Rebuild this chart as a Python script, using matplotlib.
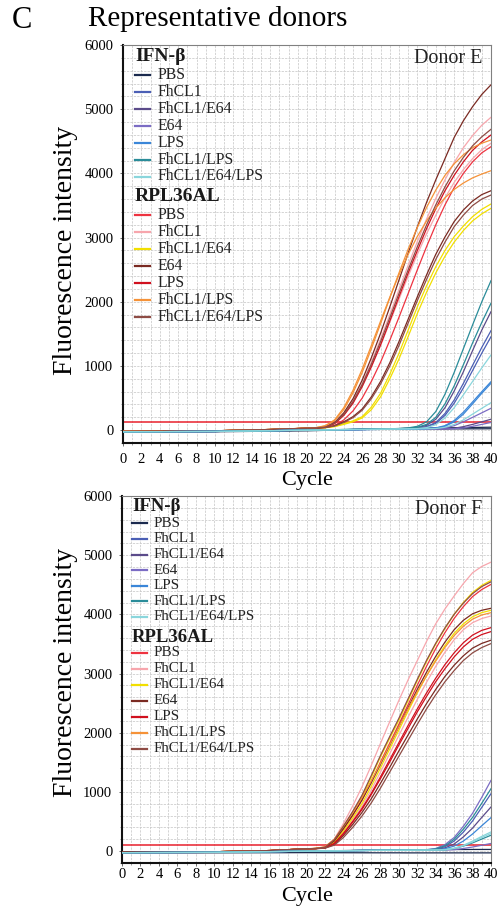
import matplotlib
matplotlib.use('Agg')
import matplotlib.pyplot as plt
from matplotlib.ticker import MultipleLocator
from matplotlib.lines import Line2D

plt.rcParams['font.family'] = ['Liberation Serif', 'DejaVu Serif']

# ---------------- data ----------------
conditions = ['PBS', 'FhCL1', 'FhCL1/E64', 'E64', 'LPS', 'FhCL1/LPS', 'FhCL1/E64/LPS']
ifn_colors = ['#1b2a4e', '#4b5fb5', '#5b4b8a', '#7b6cc4', '#3a86d8', '#2a8c99', '#8ad6dc']
rpl_colors = ['#ee3340', '#f7a6ad', '#f2df00', '#7a2a22', '#d0101e', '#f59238', '#8e4c45']

cycles_rpl = [0, 10, 16] + list(range(20, 41))
cycles_ifn = [0, 10, 20, 28] + list(range(30, 41))
x_ticks = list(range(0, 41, 2))
y_ticks = [0, 1000, 2000, 3000, 4000, 5000, 6000]
threshold_E = 120
threshold_F = 100

# Donor E - IFN-beta (replicates)
E_ifn_PBS = [[-25, -20, 0, 15, 16, 17, 18, 18, 19, 19, 20, 20, 21, 21, 22],
             [-30, -25, -10, 20, 25, 28, 30, 32, 34, 36, 38, 40, 42, 44, 46]]
E_ifn_FhCL1 = [[-25, -20, 0, 15, 20, 22, 30, 55, 120, 260, 470, 730, 1010, 1290, 1550],
               [-25, -20, 0, 15, 20, 22, 28, 50, 105, 230, 420, 660, 930, 1200, 1456]]
E_ifn_FhCL1_E64 = [[-25, -20, 0, 15, 22, 28, 40, 75, 170, 350, 610, 910, 1240, 1560, 1846],
                   [-25, -20, 0, 15, 18, 19, 20, 20, 21, 22, 30, 55, 90, 130, 170]]
E_ifn_E64 = [[-25, -20, 0, 15, 18, 19, 20, 21, 22, 35, 70, 130, 200, 270, 341],
             [-25, -20, 0, 14, 16, 17, 18, 18, 19, 20, 22, 35, 60, 90, 120]]
E_ifn_LPS = [[-25, -20, 0, 12, 15, 16, 18, 25, 35, 70, 150, 280, 440, 600, 755],
             [-25, -20, 0, 12, 15, 16, 17, 24, 32, 60, 130, 250, 410, 575, 730]]
E_ifn_FhCL1_LPS = [[-25, -20, 0, 20, 25, 35, 60, 130, 290, 560, 900, 1270, 1640, 2000, 2329],
                   [-25, -20, 0, 20, 24, 30, 45, 90, 200, 410, 690, 1020, 1360, 1680, 1977]]
E_ifn_FhCL1_E64_LPS = [[-25, -20, 0, 15, 20, 22, 25, 40, 85, 190, 350, 550, 760, 970, 1171],
                       [-25, -20, 0, 15, 18, 19, 20, 22, 25, 45, 90, 160, 250, 340, 428]]

# Donor E - RPL36AL (replicates)
E_rpl_PBS = [[-20, -10, 10, 30, 33, 40, 70, 160, 300, 500, 760, 1060, 1400, 1760, 2130, 2500, 2860, 3200, 3510, 3780, 4000, 4180, 4320, 4416]]
E_rpl_FhCL1 = [[-20, -10, 10, 30, 35, 48, 115, 255, 460, 730, 1060, 1420, 1800, 2190, 2570, 2940, 3290, 3610, 3900, 4170, 4400, 4590, 4750, 4874],
               [-20, -10, 10, 30, 35, 45, 105, 235, 425, 680, 985, 1320, 1680, 2040, 2400, 2740, 3060, 3350, 3620, 3860, 4060, 4230, 4370, 4469]]
E_rpl_FhCL1_E64 = [[-20, -10, 10, 30, 32, 40, 60, 100, 145, 210, 360, 575, 870, 1198, 1560, 1924, 2250, 2547, 2800, 3014, 3180, 3326, 3440, 3523],
                   [-20, -10, 10, 30, 32, 38, 55, 90, 130, 190, 320, 520, 800, 1110, 1460, 1820, 2150, 2450, 2710, 2930, 3110, 3260, 3370, 3456]]
E_rpl_E64 = [[-20, -10, 10, 30, 35, 50, 120, 270, 490, 780, 1130, 1510, 1920, 2340, 2760, 3170, 3550, 3900, 4230, 4560, 4820, 5040, 5230, 5380],
             [-20, -10, 10, 30, 32, 42, 70, 130, 210, 330, 520, 760, 1050, 1380, 1730, 2080, 2420, 2740, 3010, 3250, 3430, 3570, 3670, 3730]]
E_rpl_LPS = [[-20, -10, 10, 30, 35, 45, 100, 230, 420, 680, 990, 1330, 1700, 2080, 2450, 2800, 3140, 3450, 3730, 3970, 4180, 4360, 4490, 4598]]
E_rpl_FhCL1_LPS = [[-20, -10, 10, 32, 40, 65, 150, 320, 580, 900, 1270, 1660, 2060, 2450, 2820, 3160, 3470, 3740, 3970, 4150, 4290, 4400, 4470, 4520],
                   [-20, -10, 10, 32, 40, 70, 160, 350, 620, 950, 1320, 1700, 2070, 2420, 2740, 3020, 3260, 3460, 3620, 3750, 3850, 3930, 3990, 4042]]
E_rpl_FhCL1_E64_LPS = [[-20, -10, 10, 30, 35, 48, 110, 245, 445, 710, 1030, 1380, 1750, 2130, 2500, 2860, 3200, 3510, 3790, 4040, 4250, 4430, 4570, 4687],
                       [-20, -10, 10, 30, 32, 40, 65, 120, 195, 310, 490, 720, 1000, 1320, 1670, 2020, 2350, 2660, 2930, 3170, 3350, 3500, 3600, 3663]]

# Donor F - IFN-beta (replicates)
F_ifn_PBS = [[-20, -15, 0, 20, 22, 24, 25, 26, 27, 27, 28, 28, 29, 29, 29],
             [-30, -28, -25, -28, -28, -29, -29, -29, -29, -29, -29, -29, -29, -29, -29]]
F_ifn_FhCL1 = [[-25, -20, 0, 15, 17, 18, 19, 20, 32, 75, 170, 320, 510, 740, 971]]
F_ifn_FhCL1_E64 = [[-25, -20, 0, 15, 16, 17, 18, 19, 25, 55, 120, 240, 390, 570, 746]]
F_ifn_E64 = [[-25, -20, 0, 15, 17, 18, 20, 25, 45, 110, 230, 420, 640, 910, 1195],
             [-25, -20, 0, 15, 16, 17, 17, 18, 19, 20, 25, 45, 70, 100, 130]]
F_ifn_LPS = [[-25, -20, 0, 15, 16, 17, 18, 19, 22, 40, 85, 170, 290, 430, 567]]
F_ifn_FhCL1_LPS = [[-25, -20, 0, 15, 17, 18, 19, 22, 38, 90, 200, 370, 570, 810, 1055],
                   [-25, -20, 0, 15, 16, 17, 18, 19, 20, 22, 45, 85, 140, 205, 269]]
F_ifn_FhCL1_E64_LPS = [[-25, -20, 0, 15, 16, 17, 18, 19, 20, 25, 50, 100, 170, 250, 325],
                       [-25, -20, 0, 15, 16, 17, 18, 19, 20, 22, 45, 90, 155, 230, 298]]

# Donor F - RPL36AL (replicates)
F_rpl_PBS = [[-20, -10, 10, 40, 44, 60, 160, 370, 600, 860, 1170, 1500, 1820, 2140, 2470, 2800, 3120, 3420, 3690, 3930, 4130, 4300, 4420, 4507]]
F_rpl_FhCL1 = [[-20, -10, 10, 40, 45, 70, 200, 466, 760, 1082, 1440, 1813, 2180, 2542, 2890, 3215, 3540, 3838, 4090, 4310, 4520, 4703, 4810, 4882],
               [-20, -10, 10, 40, 44, 58, 140, 320, 530, 760, 1030, 1330, 1640, 1950, 2260, 2560, 2850, 3120, 3360, 3570, 3740, 3860, 3930, 3973]]
F_rpl_FhCL1_E64 = [[-20, -10, 10, 40, 45, 65, 180, 409, 650, 914, 1240, 1588, 1900, 2205, 2540, 2879, 3200, 3497, 3760, 4001, 4200, 4370, 4490, 4574],
                   [-20, -10, 10, 40, 44, 58, 150, 340, 560, 800, 1090, 1400, 1720, 2040, 2360, 2670, 2960, 3230, 3470, 3680, 3840, 3960, 4030, 4069]]
F_rpl_E64 = [[-20, -10, 10, 40, 45, 62, 170, 380, 610, 860, 1150, 1460, 1780, 2100, 2420, 2730, 3020, 3290, 3530, 3740, 3900, 4010, 4070, 4103],
             [-20, -10, 10, 40, 43, 52, 115, 265, 450, 650, 880, 1140, 1410, 1690, 1960, 2230, 2490, 2730, 2950, 3140, 3300, 3430, 3510, 3564]]
F_rpl_LPS = [[-20, -10, 10, 40, 44, 55, 125, 290, 490, 700, 950, 1220, 1500, 1790, 2070, 2350, 2610, 2860, 3080, 3280, 3450, 3580, 3660, 3709],
             [-20, -10, 10, 40, 44, 55, 130, 300, 500, 720, 970, 1250, 1540, 1830, 2120, 2400, 2670, 2920, 3150, 3350, 3520, 3650, 3730, 3776]]
F_rpl_FhCL1_LPS = [[-20, -10, 10, 40, 48, 75, 200, 420, 650, 900, 1180, 1480, 1790, 2100, 2400, 2690, 2960, 3210, 3440, 3640, 3800, 3920, 3990, 4029]]
F_rpl_FhCL1_E64_LPS = [[-20, -10, 10, 40, 45, 68, 190, 420, 670, 940, 1270, 1610, 1930, 2240, 2570, 2900, 3220, 3510, 3770, 4000, 4190, 4350, 4470, 4550],
                       [-20, -10, 10, 40, 42, 50, 100, 230, 400, 590, 810, 1060, 1330, 1600, 1870, 2140, 2400, 2640, 2860, 3050, 3220, 3350, 3440, 3507]]

E_ifn = [E_ifn_PBS, E_ifn_FhCL1, E_ifn_FhCL1_E64, E_ifn_E64, E_ifn_LPS, E_ifn_FhCL1_LPS, E_ifn_FhCL1_E64_LPS]
E_rpl = [E_rpl_PBS, E_rpl_FhCL1, E_rpl_FhCL1_E64, E_rpl_E64, E_rpl_LPS, E_rpl_FhCL1_LPS, E_rpl_FhCL1_E64_LPS]
F_ifn = [F_ifn_PBS, F_ifn_FhCL1, F_ifn_FhCL1_E64, F_ifn_E64, F_ifn_LPS, F_ifn_FhCL1_LPS, F_ifn_FhCL1_E64_LPS]
F_rpl = [F_rpl_PBS, F_rpl_FhCL1, F_rpl_FhCL1_E64, F_rpl_E64, F_rpl_LPS, F_rpl_FhCL1_LPS, F_rpl_FhCL1_E64_LPS]

# ---------------- figure ----------------
W, H = 500, 910
fig = plt.figure(figsize=(W / 100, H / 100), dpi=100)


def fx(px):
    return px / W


def fy(py):
    return 1 - py / H


def style_axes(ax, tick_pad_x):
    ax.set_xlim(0, 40)
    ax.set_ylim(-200, 6000)
    ax.set_xticks(x_ticks)
    ax.set_yticks(y_ticks)
    ax.xaxis.set_minor_locator(MultipleLocator(1))
    ax.yaxis.set_minor_locator(MultipleLocator(200))
    ax.grid(True, which='both', color='#c9c9c9', linestyle=(0, (3, 1.5)), linewidth=0.55)
    ax.set_axisbelow(True)
    ax.tick_params(axis='both', which='major', labelsize=10.5, length=2.5, width=0.6, color='#555555')
    ax.tick_params(axis='y', which='major', pad=4.5)
    ax.tick_params(axis='x', which='major', pad=tick_pad_x)
    ax.tick_params(axis='both', which='minor', length=1.5, width=0.5, color='#777777')
    for s in ['left', 'bottom']:
        ax.spines[s].set_color('#111111')
        ax.spines[s].set_linewidth(1.5)
    for s in ['top', 'right']:
        ax.spines[s].set_color('#808080')
        ax.spines[s].set_linewidth(0.8)


def draw_curves(ax, ifn, rpl, thr):
    ax.axhline(thr, color='#e8202c', lw=1.1, zorder=2)
    for reps, col in zip(rpl, rpl_colors):
        for vals in reps:
            ax.plot(cycles_rpl, vals, color=col, lw=0.9, zorder=3)
    for reps, col in zip(ifn, ifn_colors):
        for vals in reps:
            ax.plot(cycles_ifn, vals, color=col, lw=0.9, zorder=3)


def draw_legend(hx, tx, lx1, y_hdr1, y_rows1, y_hdr2, y_rows2, fs_hdr, fs_txt):
    for hy, rows, name, cols in [(y_hdr1, y_rows1, 'IFN-β', ifn_colors),
                                 (y_hdr2, y_rows2, 'RPL36AL', rpl_colors)]:
        fig.text(fx(hx), fy(hy), name, fontsize=fs_hdr, fontweight='bold',
                 ha='left', va='center', color='#1a1a1a')
        for ry, lab, col in zip(rows, conditions, cols):
            fig.add_artist(Line2D([fx(hx), fx(lx1)], [fy(ry), fy(ry)], color=col, lw=1.6,
                                  transform=fig.transFigure))
            fig.text(fx(tx), fy(ry), lab, fontsize=fs_txt, ha='left', va='center', color='#222222')


# Panel E
ax1 = fig.add_axes([fx(123), fy(443), 368 / W, 398 / H])
style_axes(ax1, 4.5)
draw_curves(ax1, E_ifn, E_rpl, threshold_E)
ax1.text(0.9755, 0.965, 'Donor E', transform=ax1.transAxes, ha='right', va='center',
         fontsize=14.5, color='#222222')

# Panel F
ax2 = fig.add_axes([fx(122), fy(863), 369 / W, 367 / H])
style_axes(ax2, 1.0)
draw_curves(ax2, F_ifn, F_rpl, threshold_F)
ax2.text(0.9756, 0.962, 'Donor F', transform=ax2.transAxes, ha='right', va='center',
         fontsize=14.5, color='#222222')

# legends
rows_e1 = [75, 91.9, 108.8, 125.7, 142.6, 159.5, 176.5]
rows_e2 = [215, 232, 249, 266, 283, 300, 317]
draw_legend(135, 158, 150, 56.7, rows_e1, 196.7, rows_e2, 14, 11.3)
rows_f1 = [523.3, 539, 554.6, 570.2, 585.8, 601.4, 617]
rows_f2 = [653, 669, 685, 701, 717, 733, 749]
draw_legend(132, 154, 147, 506.7, rows_f1, 637, rows_f2, 13.5, 10.8)

# axis labels and titles
fig.text(fx(307), fy(480), 'Cycle', fontsize=16, ha='center', va='center')
fig.text(fx(307), fy(897), 'Cycle', fontsize=16, ha='center', va='center')
fig.text(fx(66), fy(250), 'Fluorescence intensity', fontsize=20, rotation=90, ha='center', va='center')
fig.text(fx(66), fy(672), 'Fluorescence intensity', fontsize=20, rotation=90, ha='center', va='center')
fig.text(fx(12), fy(20), 'C', fontsize=22, ha='left', va='center')
fig.text(fx(88), fy(19), 'Representative donors', fontsize=21, ha='left', va='center')

fig.savefig('out.png', dpi=100)
